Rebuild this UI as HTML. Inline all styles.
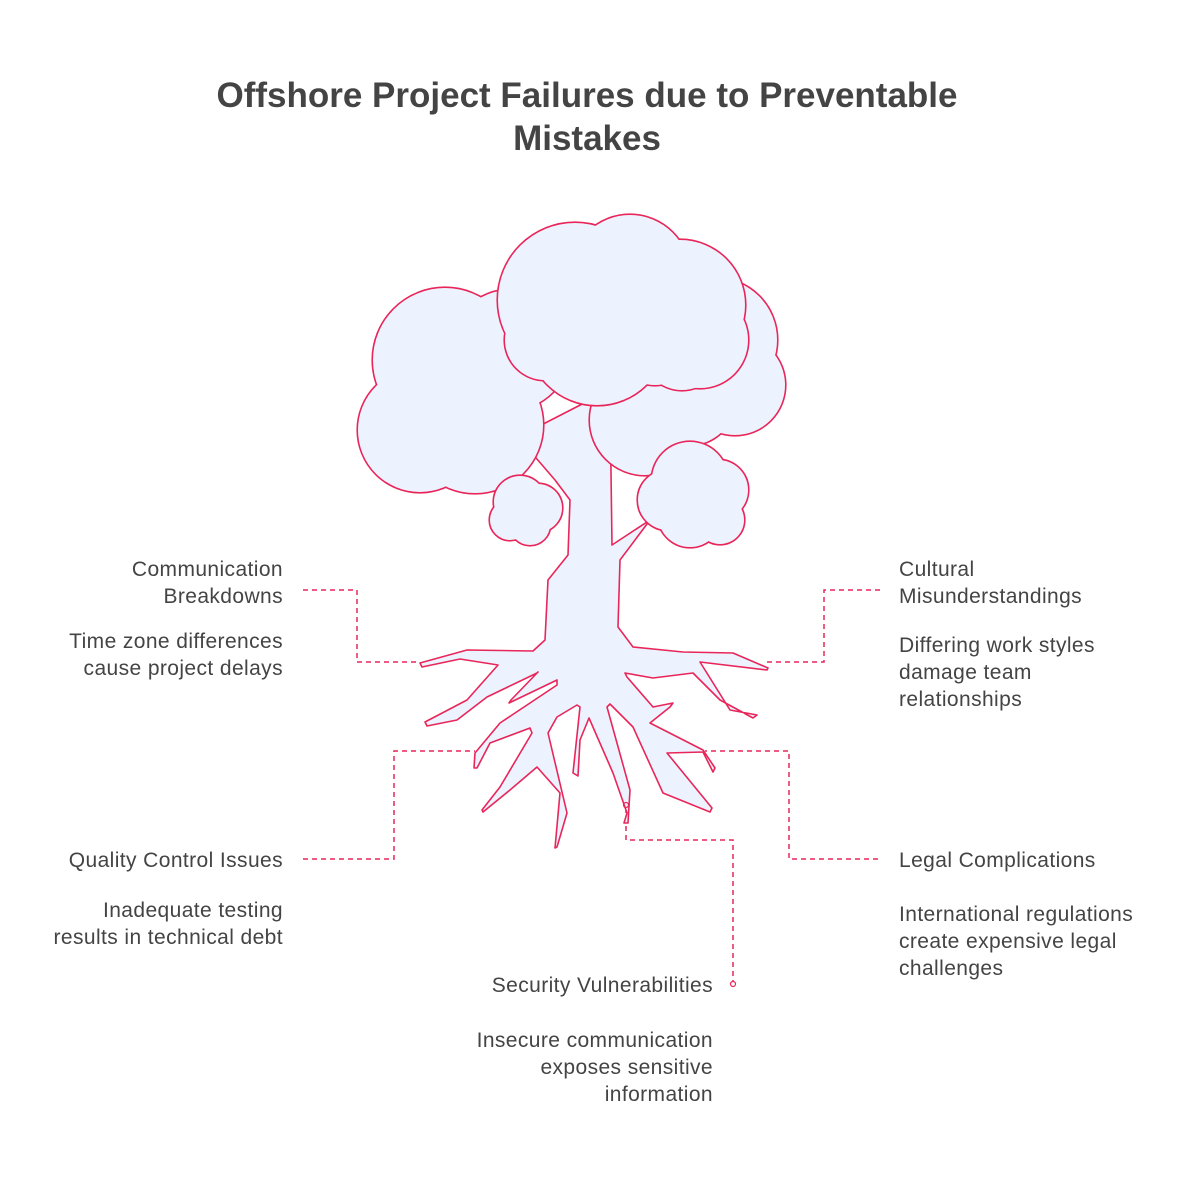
<!DOCTYPE html>
<html><head><meta charset="utf-8"><style>
body{margin:0;background:#fff;}
svg text{font-family:"Liberation Sans",sans-serif;fill:#444;}
</style></head><body>
<svg width="1200" height="1182" viewBox="0 0 1200 1182" xmlns="http://www.w3.org/2000/svg">
<rect width="1200" height="1182" fill="#fff"/>
<text x="587" y="107" font-size="35" font-weight="bold" text-anchor="middle">Offshore Project Failures due to Preventable</text>
<text x="587" y="150" font-size="35" font-weight="bold" text-anchor="middle">Mistakes</text>

<g fill="none" stroke="#e8265a" stroke-width="1.5" stroke-dasharray="5 4">
<polyline points="303,590 357,590 357,662 420,662"/>
<polyline points="303,859 394,859 394,751 475,751"/>
<polyline points="626,808 626,840 733,840 733,982"/>
<polyline points="880,590 824,590 824,662 765,662"/>
<polyline points="878,859 789,859 789,751 705,751"/>
</g>

<path fill="#edf3fe" stroke="#e8265a" stroke-width="1.6" stroke-linejoin="round" d="M518,437 L555,480 L570,500 L568,555 L548,580 L545,640 L533,651 L467,650 L420,663 L422,667 L460,659 L498,665 L467,700 L425,722 L427,726 L457,720 L487,697 L537,673 L538,672 L511,700 L509,703 L557,680 L557,685 L500,723 L475,753 L474,768 L477,768 L490,743 L530,728 L532,733 L500,787 L482,810 L483,812 L510,790 L537,767 L560,793 L555,848 L557,847 L567,813 L548,733 L557,717 L577,705 L580,707 L573,773 L578,776 L580,740 L589,718 L613,773 L627,813 L624,823 L628,823 L630,790 L607,707 L610,704 L633,727 L663,793 L710,812 L712,808 L667,753 L703,752 L713,772 L715,768 L703,750 L650,723 L670,707 L673,703 L653,707 L627,677 L625,673 L653,678 L693,673 L720,700 L753,718 L757,715 L730,710 L700,662 L767,670 L768,668 L733,653 L683,652 L633,647 L618,627 L620,560 L650,520 L612,545 L610,400 L590,400 Z"/>
<circle cx="626" cy="805" r="2.5" fill="none" stroke="#e8265a" stroke-width="1.2"/>
<circle cx="733" cy="984" r="2.5" fill="none" stroke="#e8265a" stroke-width="1.2"/>

<g stroke="#e8265a" stroke-width="3.2" fill="#edf3fe">
<circle cx="445" cy="360" r="72"/><circle cx="420" cy="430" r="62"/><circle cx="475" cy="425" r="68"/><circle cx="510" cy="350" r="60"/><circle cx="400" cy="385" r="22"/>
</g>
<g fill="#edf3fe"><circle cx="445" cy="360" r="72"/><circle cx="420" cy="430" r="62"/><circle cx="475" cy="425" r="68"/><circle cx="510" cy="350" r="60"/><circle cx="400" cy="385" r="22"/></g>
<g stroke="#e8265a" stroke-width="3.2" fill="#edf3fe">
<circle cx="715" cy="340" r="62"/><circle cx="735" cy="385" r="50"/><circle cx="690" cy="400" r="45"/><circle cx="645" cy="420" r="55"/><circle cx="705" cy="390" r="30"/>
</g>
<g fill="#edf3fe"><circle cx="715" cy="340" r="62"/><circle cx="735" cy="385" r="50"/><circle cx="690" cy="400" r="45"/><circle cx="645" cy="420" r="55"/><circle cx="705" cy="390" r="30"/></g>
<g stroke="#e8265a" stroke-width="3.2" fill="#edf3fe">
<circle cx="575" cy="300" r="77"/><circle cx="630" cy="275" r="60"/><circle cx="680" cy="305" r="65"/><circle cx="700" cy="340" r="48"/><circle cx="597" cy="335" r="70"/><circle cx="545" cy="340" r="40"/><circle cx="682" cy="350" r="40"/><circle cx="655" cy="345" r="40"/>
</g>
<g fill="#edf3fe"><circle cx="575" cy="300" r="77"/><circle cx="630" cy="275" r="60"/><circle cx="680" cy="305" r="65"/><circle cx="700" cy="340" r="48"/><circle cx="597" cy="335" r="70"/><circle cx="545" cy="340" r="40"/><circle cx="682" cy="350" r="40"/><circle cx="655" cy="345" r="40"/></g>
<g stroke="#e8265a" stroke-width="3.2" fill="#edf3fe">
<circle cx="520" cy="502" r="26"/><circle cx="538" cy="508" r="24"/><circle cx="510" cy="520" r="20"/><circle cx="530" cy="525" r="20"/>
</g>
<g fill="#edf3fe"><circle cx="520" cy="502" r="26"/><circle cx="538" cy="508" r="24"/><circle cx="510" cy="520" r="20"/><circle cx="530" cy="525" r="20"/></g>
<g stroke="#e8265a" stroke-width="3.2" fill="#edf3fe">
<circle cx="690" cy="480" r="38"/><circle cx="718" cy="490" r="30"/><circle cx="668" cy="500" r="30"/><circle cx="690" cy="515" r="32"/><circle cx="720" cy="520" r="24"/>
</g>
<g fill="#edf3fe"><circle cx="690" cy="480" r="38"/><circle cx="718" cy="490" r="30"/><circle cx="668" cy="500" r="30"/><circle cx="690" cy="515" r="32"/><circle cx="720" cy="520" r="24"/></g>

<g font-size="21" letter-spacing="0.4">
<g text-anchor="end">
<text x="283" y="576">Communication</text>
<text x="283" y="603">Breakdowns</text>
<text x="283" y="648">Time zone differences</text>
<text x="283" y="675">cause project delays</text>
<text x="283" y="867">Quality Control Issues</text>
<text x="283" y="917">Inadequate testing</text>
<text x="283" y="944">results in technical debt</text>
<text x="713" y="992">Security Vulnerabilities</text>
<text x="713" y="1047">Insecure communication</text>
<text x="713" y="1074">exposes sensitive</text>
<text x="713" y="1101">information</text>
</g>
<text x="899" y="576">Cultural</text>
<text x="899" y="603">Misunderstandings</text>
<text x="899" y="652">Differing work styles</text>
<text x="899" y="679">damage team</text>
<text x="899" y="706">relationships</text>
<text x="899" y="867">Legal Complications</text>
<text x="899" y="921">International regulations</text>
<text x="899" y="948">create expensive legal</text>
<text x="899" y="975">challenges</text>
</g>
</svg>
</body></html>
